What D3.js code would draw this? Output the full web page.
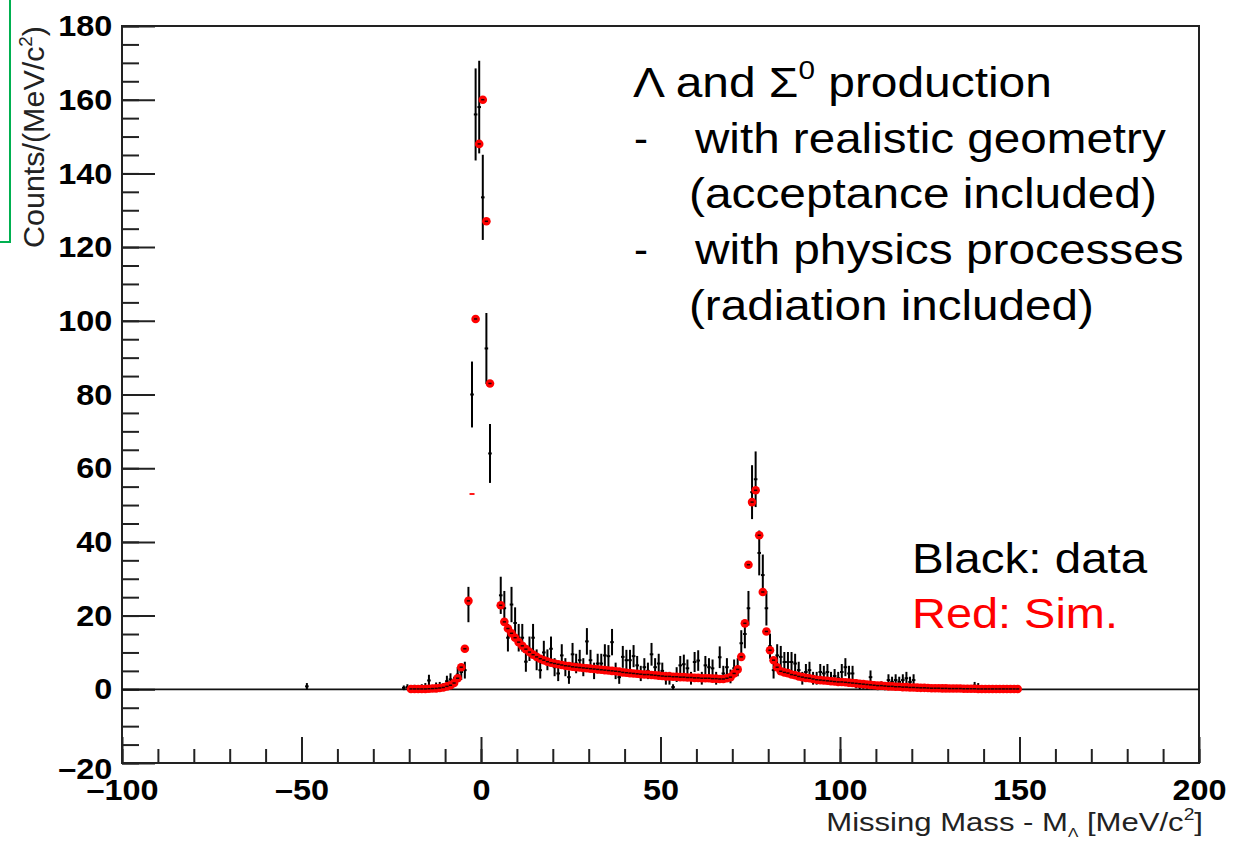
<!DOCTYPE html>
<html>
<head>
<meta charset="utf-8">
<script src="https://cdn.jsdelivr.net/npm/d3@7"></script>
<style>
  html, body { margin: 0; padding: 0; background: #fff; }
  svg { display: block; font-family: "Liberation Sans", Arial, Helvetica, sans-serif; }
</style>
</head>
<body>
<svg id="chart" width="1237" height="843"></svg>
<script>
// 1 MeV/c^2 bins; entry i sits at firstCenter + i
const binWidth = 1;

// Black: data (null = empty bin)
const dataFirstCenter = -48.5;
const dataCounts = [
  0.8, null, null, null, null, null, null, null, null, null, null, null, null, null,
  null, null, null, null, null, null, null, null, null, null, null, null, null,
  // -21.5 .. -0.5
  0.4, 0.6, 0.3, 0.5, 0.3, 0.6, 0.8, 2.4, 0.5, 0.9, 1.0, 0.8, 2.2, 2.7, 2.0, 4.0, 4.7, 5.2, 23, 80, 156, 158,
  // 0.5 .. 9.5
  133.5, 92.5, 64, null, null, 25.5, 22, 14, 23, 18,
  // 10.5 .. 19.5
  14, 14, 7.5, 11, 14, 8, 5.2, 10, 8, 11,
  // 20.5 .. 29.5
  6, 4.3, 9.2, 6, 3.3, 9.5, 7, 7.9, 6, 13,
  // 30.5 .. 39.5
  7.9, 5, 7, 7, 9.2, 9, 12.8, 5, 3.3, 8.8,
  // 40.5 .. 49.5
  7.9, 7.9, 9, 6.5, 4.3, 6, 5, 9.5, 6, 7,
  // 50.5 .. 59.5
  5, 3, 3, 0.6, 4, 6.5, 6.8, 5.7, 3, 7.4,
  // 60.5 .. 69.5
  7.8, 3, 6.5, 6, 5.7, 3, 8.7, 4.3, 6, 3.5,
  // 70.5 .. 79.5
  5.7, 6, 12.5, 15, 22, 53.5, 57, 37, 31, 22,
  // 80.5 .. 89.5
  11.7, 5.2, 9.2, 8.8, 7.4, 7.4, 7.4, 7, 5.2, 3,
  // 90.5 .. 99.5
  4.7, 5.2, 3, 3, 4.7, 4.3, 4.7, 3, 3.6, 3,
  // 100.5 .. 109.5
  4.7, 6, 4.3, 4.3, 1.5, 0.8, 1.1, 0.8, 3.3, 1.1,
  // 110.5 .. 119.5
  0.3, 1.1, 0.3, 2.5, 2, 2.5, 2, 2.5, 3, 2,
  // 120.5 .. 129.5
  2.5, 0.5, null, 0.3, null, null, null, 0.3, 0.5, null,
  // 130.5 .. 138.5
  null, null, null, null, null, null, null, 1, 0.8
];

// Red: simulation
const simFirstCenter = -19.5;
const simCounts = [
  // -19.5 .. -10.5
  0.1, 0.1, 0.1, 0.1, 0.1, 0.15, 0.2, 0.25, 0.35, 0.5,
  // -9.5 .. -0.5
  0.8, 1.1, 1.7, 3, 6, 11, 24, 53, 100.5, 148,
  // 0.5 .. 9.5
  160, 127, 83, null, null, 22.8, 18.3, 16.5, 15.2, 14,
  // 10.5 .. 19.5
  12.8, 11.8, 10.9, 10.1, 9.4, 8.8, 8.3, 7.9, 7.5, 7.2,
  // 20.5 .. 29.5
  7.0, 6.8, 6.6, 6.4, 6.3, 6.1, 6.0, 5.9, 5.8, 5.7,
  // 30.5 .. 39.5
  5.6, 5.5, 5.4, 5.3, 5.2, 5.1, 5.0, 4.9, 4.8, 4.6,
  // 40.5 .. 49.5
  4.5, 4.4, 4.3, 4.2, 4.1, 4.0, 4.0, 3.9, 3.8, 3.7,
  // 50.5 .. 59.5
  3.6, 3.5, 3.5, 3.4, 3.4, 3.3, 3.3, 3.2, 3.2, 3.1,
  // 60.5 .. 69.5
  3.1, 3.0, 3.0, 3.0, 2.9, 2.9, 2.8, 2.8, 3.0, 3.3,
  // 70.5 .. 79.5
  4.3, 5.4, 8.8, 17.9, 33.8, 50.8, 54, 41.8, 26.4, 15.7,
  // 80.5 .. 89.5
  10.6, 7.9, 6.0, 4.9, 4.6, 4.4, 4.0, 3.8, 3.5, 3.3,
  // 90.5 .. 99.5
  3.1, 3.0, 2.8, 2.6, 2.5, 2.4, 2.3, 2.2, 2.1, 2.0,
  // 100.5 .. 109.5
  2.0, 1.9, 1.8, 1.7, 1.6, 1.5, 1.4, 1.3, 1.2, 1.1,
  // 110.5 .. 119.5
  1.0, 1.0, 0.9, 0.8, 0.8, 0.7, 0.7, 0.6, 0.6, 0.5,
  // 120.5 .. 129.5
  0.5, 0.45, 0.4, 0.4, 0.35, 0.3, 0.3, 0.3, 0.25, 0.25,
  // 130.5 .. 139.5
  0.2, 0.2, 0.2, 0.2, 0.15, 0.15, 0.15, 0.15, 0.1, 0.1,
  // 140.5 .. 149.5
  0.1, 0.1, 0.1, 0.1, 0.1, 0.1, 0.1, 0.1, 0.1, 0.1
];
// sim bins drawn without the round marker (only the dash shows)
const simNoMarker = [-2.5];

const xMajorTicks = [-100, -50, 0, 50, 100, 150, 200];
const yMajorTicks = [-20, 0, 20, 40, 60, 80, 100, 120, 140, 160, 180];

const svg = d3.select('#chart');
const x = d3.scaleLinear().domain([-100, 200]).range([122, 1199]);
const y = d3.scaleLinear().domain([-20, 180]).range([763, 26]);

const toPoints = (first, counts) => counts
  .map((v, i) => ({ c: first + i * binWidth, v }))
  .filter(d => d.v !== null);

const dataPts = toPoints(dataFirstCenter, dataCounts);
const simPts = toPoints(simFirstCenter, simCounts);

// green slide-box corner
svg.append('path')
  .attr('d', 'M10,0 V242 H0')
  .attr('fill', 'none')
  .attr('stroke', '#00b050')
  .attr('stroke-width', 2);

// --- axes ---
function styleAxis(g) {
  g.attr('font-size', null).attr('font-family', null).attr('color', '#222');
  g.select('.domain').remove();
  g.selectAll('.tick line').attr('stroke-width', 2);
}

svg.append('g')
  .attr('transform', `translate(0,${y(-20)})`)
  .call(d3.axisBottom(x).tickValues(d3.range(-100, 201, 10)).tickSize(-14).tickFormat(() => ''))
  .call(styleAxis);

const xAxis = svg.append('g')
  .attr('transform', `translate(0,${y(-20)})`)
  .call(d3.axisBottom(x).tickValues(xMajorTicks).tickSize(-26).tickPadding(16)
    .tickFormat(d => d < 0 ? '–' + Math.abs(d) : String(d)))
  .call(styleAxis);

svg.append('g')
  .attr('transform', `translate(${x(-100)},0)`)
  .call(d3.axisLeft(y).tickValues(d3.range(-20, 181, 5)).tickSize(-17).tickFormat(() => ''))
  .call(styleAxis);

const yAxis = svg.append('g')
  .attr('transform', `translate(${x(-100)},0)`)
  .call(d3.axisLeft(y).tickValues(yMajorTicks).tickSize(-33).tickPadding(9)
    .tickFormat(d => d < 0 ? '–' + Math.abs(d) : String(d)))
  .call(styleAxis);

[xAxis, yAxis].forEach(a => a.selectAll('text')
  .attr('fill', '#000')
  .attr('font-size', 30)
  .attr('font-weight', 'bold')
  .attr('transform', 'scale(1.08,1)'));

// ROOT pushes the bottom label of the y axis down a little
yAxis.selectAll('.tick').filter(d => d === -20).select('text').attr('dy', '0.5em');

// frame
svg.append('rect')
  .attr('x', x(-100)).attr('y', y(180))
  .attr('width', x(200) - x(-100)).attr('height', y(-20) - y(180))
  .attr('fill', 'none').attr('stroke', '#222').attr('stroke-width', 2);

// --- histograms ---
const plot = svg.append('g');

// empty-bin line at zero
plot.append('line')
  .attr('x1', x(-100)).attr('x2', x(200))
  .attr('y1', y(0)).attr('y2', y(0))
  .attr('stroke', '#111').attr('stroke-width', 1.8);

const dataG = plot.append('g').attr('stroke', '#000').attr('stroke-width', 2);
dataG.selectAll('line.err')
  .data(dataPts)
  .join('line')
  .attr('class', 'err')
  .attr('x1', d => x(d.c)).attr('x2', d => x(d.c))
  .attr('y1', d => y(d.v - Math.sqrt(d.v))).attr('y2', d => y(d.v + Math.sqrt(d.v)));
dataG.selectAll('line.bin')
  .data(dataPts)
  .join('line')
  .attr('class', 'bin')
  .attr('x1', d => x(d.c - binWidth / 2)).attr('x2', d => x(d.c + binWidth / 2))
  .attr('y1', d => y(d.v)).attr('y2', d => y(d.v));

const simG = plot.append('g');
simG.selectAll('circle')
  .data(simPts.filter(d => !simNoMarker.includes(d.c)))
  .join('circle')
  .attr('cx', d => x(d.c)).attr('cy', d => y(d.v))
  .attr('r', 4.3)
  .attr('fill', '#ff0000');
simG.selectAll('line.nm')
  .data(simPts.filter(d => simNoMarker.includes(d.c)))
  .join('line')
  .attr('class', 'nm')
  .attr('x1', d => x(d.c) - 2.5).attr('x2', d => x(d.c) + 2.5)
  .attr('y1', d => y(d.v)).attr('y2', d => y(d.v))
  .attr('stroke', '#ff0000').attr('stroke-width', 1.8);
simG.selectAll('line.dot')
  .data(simPts.filter(d => !simNoMarker.includes(d.c)))
  .join('line')
  .attr('class', 'dot')
  .attr('x1', d => x(d.c) - 1.6).attr('x2', d => x(d.c) + 1.6)
  .attr('y1', d => y(d.v)).attr('y2', d => y(d.v))
  .attr('stroke', '#200').attr('stroke-width', 1.5);

// --- text helpers ---
function addParts(text, parts, size) {
  let shift = 0;
  parts.forEach(p => {
    const ts = text.append('tspan').text(p.t);
    let target = 0;
    if (p.sup) { ts.attr('font-size', size * 0.62); target = -size * 0.42; }
    if (p.sub) { ts.attr('font-size', size * 0.5); target = size * 0.22; }
    if (target !== shift) ts.attr('dy', target - shift);
    shift = target;
  });
}

function fitWidth(text, width) {
  const w = text.node().getBBox().width;
  text.attr('transform', `scale(${width / w},1)`);
}

function label(px, py, parts, opts) {
  const g = svg.append('g').attr('transform', `translate(${px},${py})${opts.rotate ? ' rotate(-90)' : ''}`);
  const t = g.append('text')
    .attr('font-size', opts.size)
    .attr('fill', opts.color || '#000')
    .attr('text-anchor', opts.anchor || 'start');
  addParts(t, parts, opts.size);
  if (opts.width) fitWidth(t, opts.width);
  return t;
}

// axis titles
label(1203, 831, [{ t: 'Missing Mass - M' }, { t: 'Λ', sub: true }, { t: ' [MeV/c' }, { t: '2', sup: true }, { t: ']' }],
  { size: 26, anchor: 'end', width: 377, color: '#222' });
label(44, 26, [{ t: 'Counts/(MeV/c' }, { t: '2', sup: true }, { t: ')' }],
  { size: 29, anchor: 'end', width: 222, rotate: true, color: '#222' });

// annotations
const noteSize = 42;
label(633, 97, [{ t: 'Λ and Σ' }, { t: '0', sup: true }, { t: ' production' }], { size: noteSize, width: 419 });
label(634, 153, [{ t: '-' }], { size: noteSize });
label(695, 153, [{ t: 'with realistic geometry' }], { size: noteSize, width: 472 });
label(689, 208, [{ t: '(acceptance included)' }], { size: noteSize, width: 468 });
label(634, 264, [{ t: '-' }], { size: noteSize });
label(695, 264, [{ t: 'with physics processes' }], { size: noteSize, width: 490 });
label(689, 320, [{ t: '(radiation included)' }], { size: noteSize, width: 405 });
label(912, 573, [{ t: 'Black: data' }], { size: noteSize, width: 236 });
label(912, 628, [{ t: 'Red: Sim.' }], { size: noteSize, width: 206, color: '#ff0000' });
</script>
</body>
</html>
